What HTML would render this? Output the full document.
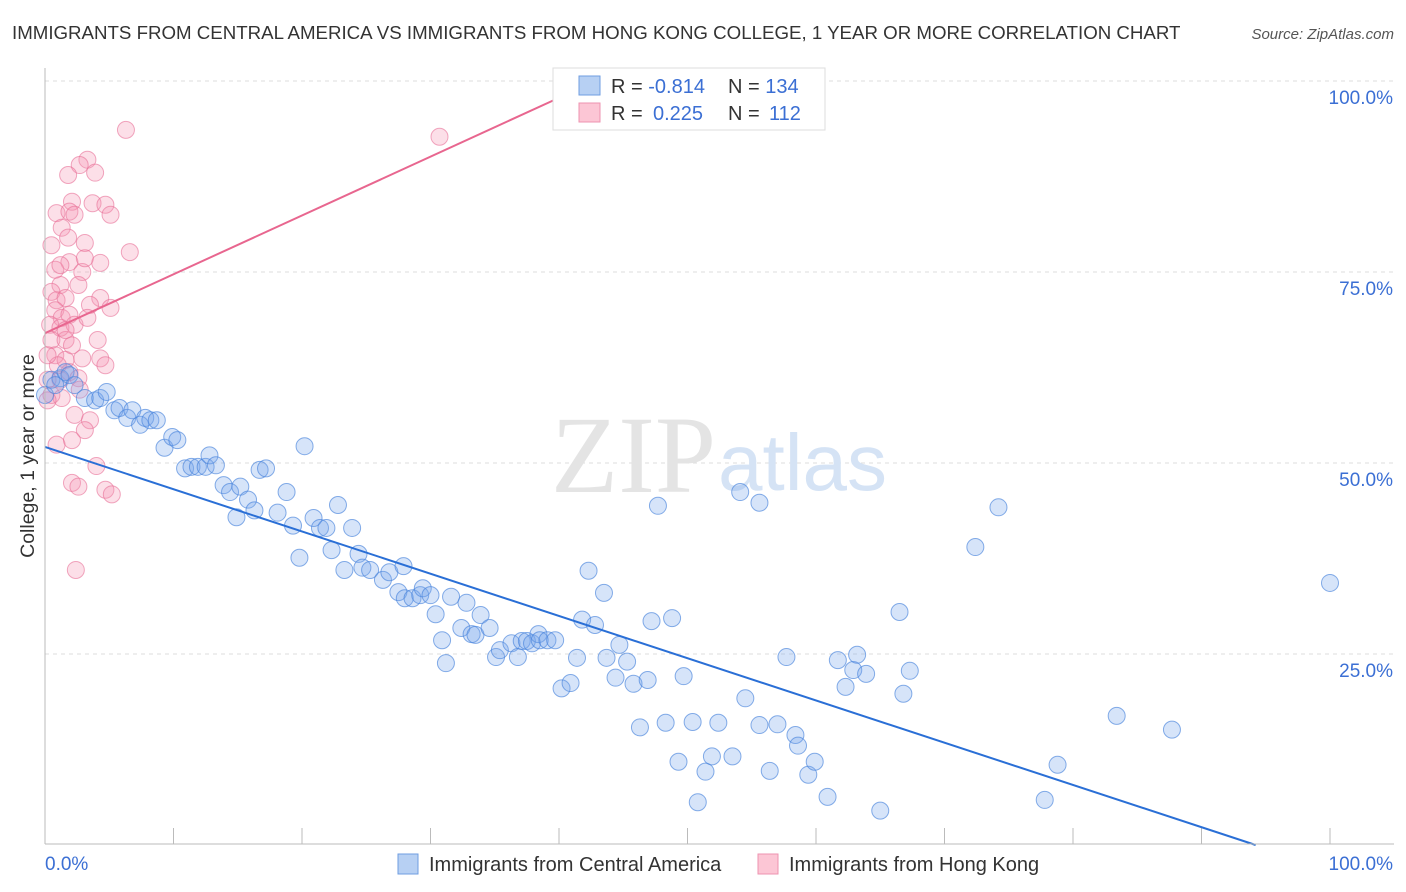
<!DOCTYPE html>
<html><head><meta charset="utf-8"><style>
body{margin:0;background:#fff;font-family:"Liberation Sans",sans-serif;}
svg{display:block}
</style></head><body>
<svg id="chart" width="1406" height="892">
<text x="12" y="39" font-size="18.7" fill="#333">IMMIGRANTS FROM CENTRAL AMERICA VS IMMIGRANTS FROM HONG KONG COLLEGE, 1 YEAR OR MORE CORRELATION CHART</text>
<text x="1394" y="39" font-size="15" fill="#555" font-style="italic" text-anchor="end">Source: ZipAtlas.com</text>
<g id="grid"></g>
<text x="716" y="492" font-size="110" font-family="Liberation Serif,serif" fill="#e4e4e4" text-anchor="end">ZIP</text>
<text x="718" y="490" font-size="80" fill="#d5e3f5">atlas</text>
<g id="marks"></g>
<line x1="45" y1="68" x2="45" y2="844" stroke="#bbb"/>
<line x1="45" y1="844" x2="1394" y2="844" stroke="#bbb"/>
<text transform="translate(34,456) rotate(-90)" font-size="19.5" fill="#333" text-anchor="middle">College, 1 year or more</text>
<text x="45" y="870" font-size="19" fill="#3b6fd4">0.0%</text>
<text x="1393" y="870" font-size="19" fill="#3b6fd4" text-anchor="end">100.0%</text>
<g>
<rect x="553" y="68" width="272" height="62" fill="#fff" stroke="#ddd"/>
<rect x="579" y="76" width="21" height="19" fill="#b7d0f3" stroke="#6f9ee0"/>
<rect x="579" y="103" width="21" height="19" fill="#fcc6d5" stroke="#ee93b0"/>
<text x="611" y="93" font-size="20" fill="#333">R = <tspan fill="#3b6fd4">-0.814</tspan><tspan x="728">N = </tspan><tspan fill="#3b6fd4">134</tspan></text>
<text x="611" y="120" font-size="20" fill="#333">R = <tspan x="653" fill="#3b6fd4">0.225</tspan><tspan x="728">N = </tspan><tspan x="769" fill="#3b6fd4">112</tspan></text>
</g>
<g>
<rect x="398" y="854" width="20" height="20" fill="#b7d0f3" stroke="#6f9ee0"/>
<text x="429" y="871" font-size="20" fill="#333">Immigrants from Central America</text>
<rect x="758" y="854" width="20" height="20" fill="#fcc6d5" stroke="#ee93b0"/>
<text x="789" y="871" font-size="20" fill="#333">Immigrants from Hong Kong</text>
</g>
</svg>
<script>
const yTicks=[25,50,75,100];
const yTickLabels=["25.0%","50.0%","75.0%","100.0%"];
const xTicks=[0,10,20,30,40,50,60,70,80,90,100];
const blueX=[0.5,1.2,1.6,1.9,2.3,3.1,3.9,4.3,4.8,5.4,5.8,6.4,6.8,7.4,7.8,8.2,8.7,9.3,9.9,10.3,10.9,11.4,11.9,12.5,12.8,13.3,13.9,14.4,14.9,15.2,15.8,16.3,16.7,17.2,18.1,18.8,19.3,19.8,20.2,20.9,21.4,21.9,22.3,22.8,23.3,23.9,24.4,24.7,25.3,26.3,26.8,27.5,27.9,28.0,28.6,29.2,29.4,30.0,30.4,30.9,31.2,31.6,32.4,32.8,33.2,33.5,33.9,34.6,35.1,35.4,36.3,36.8,37.1,37.5,37.9,38.4,38.5,39.1,39.7,40.2,40.9,41.4,41.8,42.3,42.8,43.5,43.7,44.4,44.7,45.3,45.8,46.3,46.9,47.2,47.7,48.3,48.8,49.3,49.7,50.4,50.8,51.4,51.9,52.4,53.5,54.1,54.5,55.6,55.6,56.4,57.0,57.7,58.4,58.6,59.4,59.9,60.9,61.7,62.3,62.9,63.2,63.9,65.0,66.5,66.8,67.3,72.4,74.2,77.8,78.8,83.4,87.7,100,0,0.8];
const blueY=[60.9,61.1,61.9,61.5,60.2,58.5,58.2,58.5,59.3,56.9,57.2,55.9,56.9,55.0,55.9,55.6,55.6,52.0,53.4,53.0,49.3,49.5,49.5,49.5,51.0,49.7,47.1,46.2,42.9,46.9,45.2,43.8,49.1,49.3,43.5,46.2,41.8,37.6,52.2,42.8,41.5,41.5,38.6,44.5,36.0,41.5,38.1,36.3,36.0,34.7,35.7,33.1,36.5,32.3,32.3,32.7,33.6,32.7,30.2,26.8,23.8,32.5,28.4,31.7,27.6,27.5,30.1,28.4,24.6,25.5,26.4,24.6,26.7,26.7,26.4,27.6,26.8,26.8,26.8,20.5,21.2,24.5,29.5,35.9,28.8,33.0,24.5,21.9,26.2,24.0,21.1,15.4,21.6,29.3,44.4,16.0,29.7,10.9,22.1,16.1,5.6,9.6,11.6,16.0,11.6,46.2,19.2,15.7,44.8,9.7,15.8,24.6,14.4,13.0,9.2,10.9,6.3,24.2,20.7,22.9,24.9,22.4,4.5,30.5,19.8,22.8,39.0,44.2,5.9,10.5,16.9,15.1,34.3,58.9,60.2];
const pinkX=[6.3,30.7,3.3,2.7,1.8,3.9,3.7,2.1,0.9,4.7,5.1,1.3,1.9,2.3,1.8,3.1,0.5,6.6,4.3,1.9,2.9,3.1,1.2,2.6,4.3,5.1,0.5,0.9,1.6,3.5,0.8,1.3,1.9,0.4,1.2,2.3,3.3,0.5,1.6,4.1,0.8,1.6,2.9,4.3,4.7,1.2,1.9,2.6,0.5,1.3,2.3,3.5,0.9,2.1,3.1,4.0,2.1,2.6,4.7,5.2,2.4,0.2,0.2,0.8,1.2,1.6,2.1,1.0,2.7,0.2];
const pinkY=[93.6,92.7,89.7,89.0,87.7,88.0,84.0,84.2,82.7,83.8,82.5,80.8,82.9,82.5,79.5,78.8,78.5,77.6,76.2,76.3,75.0,76.8,73.3,73.3,71.6,70.3,72.4,71.3,71.6,70.7,70.0,69.0,69.4,68.1,67.7,68.1,69.0,66.1,66.1,66.1,64.1,63.5,63.7,63.7,62.8,60.9,61.9,61.1,58.9,58.5,56.3,55.6,52.4,53.0,54.3,49.6,47.4,46.9,46.5,45.9,36.0,58.2,60.9,75.3,75.9,67.4,65.4,62.8,59.6,64.1];
const blueTrend=[52.1,-0.553];
const pinkTrend=[67.0,0.77];

const NS="http://www.w3.org/2000/svg";
const X0=45,X1=1330,Y0=845,Y100=81;
const sx=v=>X0+(X1-X0)*v/100;
const sy=v=>Y0-(Y0-Y100)*v/100;
const grid=document.getElementById('grid'),marks=document.getElementById('marks');
function mk(tag,attrs,parent){const e=document.createElementNS(NS,tag);for(const k in attrs)e.setAttribute(k,attrs[k]);parent.appendChild(e);return e;}
yTicks.forEach((t,i)=>{
  const l=mk('line',{x1:45,x2:1394,y1:sy(t),y2:sy(t),stroke:'#ddd','stroke-dasharray':'4,4'},grid);
  
  
  const tx=mk('text',{x:1393,y:sy(t)+23,'font-size':19,fill:'#3b6fd4','text-anchor':'end'},grid);
  tx.textContent=yTickLabels[i];
  
  
});
xTicks.forEach(t=>{
  const l=mk('line',{x1:sx(t),x2:sx(t),y1:828,y2:844,stroke:'#bbb'},grid);
  
  
});
pinkX.forEach((x,i)=>{
  const c=mk('circle',{cx:sx(x),cy:sy(pinkY[i]),r:8.5,fill:'rgba(244,150,180,0.3)',stroke:'rgba(232,110,150,0.6)','stroke-width':1},marks);
  
  
});
blueX.forEach((x,i)=>{
  const c=mk('circle',{cx:sx(x),cy:sy(blueY[i]),r:8.5,fill:'rgba(120,165,235,0.3)',stroke:'rgba(70,130,220,0.65)','stroke-width':1},marks);
  
  
});
const bx2=-blueTrend[0]/blueTrend[1];
const bl=mk('line',{x1:sx(0),y1:sy(blueTrend[0]),x2:sx(bx2),y2:sy(0),stroke:'#2a6fd6','stroke-width':2},marks);


const px2=(100-pinkTrend[0])/pinkTrend[1]*0.94;
const pl=mk('line',{x1:sx(0),y1:sy(pinkTrend[0]),x2:sx(px2),y2:sy(pinkTrend[0]+pinkTrend[1]*px2),stroke:'#e8668f','stroke-width':2},marks);


</script>
</body></html>
